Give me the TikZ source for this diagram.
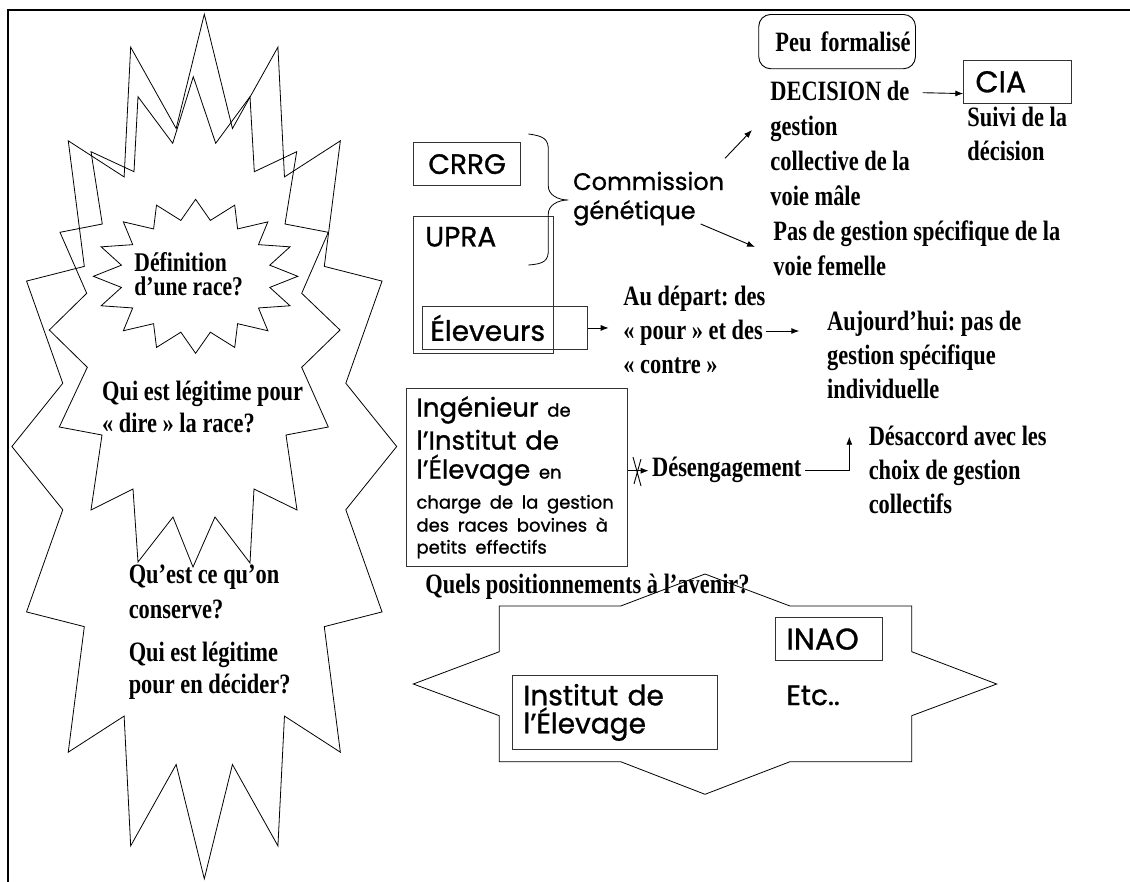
\documentclass[tikz,border=0pt]{standalone}
\usepackage{fontspec}
\setmainfont{Liberation Serif}
\newfontfamily\serre[FakeStretch=0.8]{Liberation Serif}
\newfontfamily\rond[FakeBold=1]{Poppins}
\newcommand\petit{\fontsize{18}{30}\selectfont}
\usetikzlibrary{arrows.meta}
\frenchspacing

\tikzset{
  etoile/.style={line width=0.8pt, line join=miter},
  boite/.style={draw=black!80, line width=0.9pt, rectangle, inner sep=0pt},
  serretxt/.style={font=\serre\bfseries\fontsize{28}{34}\selectfont, inner sep=0pt, align=left, anchor=base west},
  rondtxt/.style={font=\rond\fontsize{28}{30}\selectfont},
}

\begin{document}
\begin{tikzpicture}[x=1pt,y=-1pt,>={Latex[length=8pt,width=6pt]},line width=0.9pt]
\useasboundingbox (0,0) rectangle (1130,881);
% cadre
\draw[line width=1.8pt] (8,885) -- (8,10) -- (1135,10);

% les trois etoiles de gauche
\draw[etoile] ([shift={(204.3,446.5)}]90:192.4 and 432.3)
  \foreach \k [evaluate=\k as \r using {mod(\k,2)==0 ? 1 : 0.75}] in {1,...,31}
  { -- ([shift={(204.3,446.5)}]{90+11.25*\k}:{\r*192.4} and {\r*432.3}) } -- cycle;
\draw[etoile] (193.3,76.7) -- (215.7,143.3) -- (250,96.7) -- (254.3,171.7) -- (296.7,151.7)
  -- (285,224) -- (328.3,232.3) -- (301.7,293.3) -- (340,330) -- (301.7,367.3) -- (328.3,427)
  -- (286,435) -- (297,510) -- (254,489) -- (250,563) -- (215,517) -- (193,567) -- (173,517)
  -- (138,562) -- (133,489) -- (91,510) -- (102,435) -- (59.3,427) -- (87.3,367.3) -- (49.3,330)
  -- (86.7,293.3) -- (60,232.3) -- (102.3,224) -- (91,151.7) -- (134,171.7) -- (138,96.7)
  -- (172.7,143.3) -- cycle;
\draw[etoile] ([shift={(195.6,276.3)}]90:102.2 and 77)
  \foreach \k [evaluate=\k as \r using {mod(\k,2)==0 ? 1 : 0.74}] in {1,...,31}
  { -- ([shift={(195.6,276.3)}]{90+11.25*\k}:{\r*102.2} and {\r*77}) } -- cycle;

% textes : base west = ligne du bas
\node[serretxt, font=\serre\bfseries\fontsize{27}{24}\selectfont] (defi) at (134,295) {Définition\\d’une race?};
\node[serretxt, font=\serre\bfseries\fontsize{28}{32}\selectfont] (qui1) at (101.7,432) {Qui est légitime pour\\« dire » la race?};
\node[serretxt, font=\serre\bfseries\fontsize{28}{35}\selectfont] (conserve) at (128.3,618.3) {Qu’est ce qu’on\\conserve?};
\node[serretxt, font=\serre\bfseries\fontsize{28}{32}\selectfont] (qui2) at (128.3,693.7) {Qui est légitime\\pour en décider?};

% en haut a droite
\node[boite, draw=black, rounded corners=12pt, anchor=north west, minimum height=54.3pt,
  inner xsep=5pt, text width=146.7pt, align=right, font=\serre\bfseries\fontsize{28}{34}\selectfont] (peu) at (758.3,14) {Peu formalisé};
\node[serretxt, font=\serre\bfseries\fontsize{28}{35}\selectfont] (decision) at (770,205.7) {DECISION de\\gestion\\collective de la\\voie mâle};
\node[boite, anchor=north west, minimum height=42.7pt, text width=84.3pt, inner xsep=11.7pt, align=left,
  font=\rond\fontsize{30}{30}\selectfont] (cia) at (963.3,60) {CIA};
\node[serretxt] (suivi) at (967,160) {Suivi de la\\décision};
\node[serretxt, font=\serre\bfseries\fontsize{28}{35}\selectfont] (pas) at (773,275) {Pas de gestion spécifique de la\\voie femelle};

% acteurs
\node[boite, rondtxt, anchor=north west, minimum width=106.7pt, minimum height=42.7pt] (crrg) at (413.3,142.3) {CRRG};
\node[boite, rondtxt, anchor=north west, text width=117pt, inner xsep=11.5pt, inner ysep=6pt,
  text height=24pt, text depth=100.7pt, align=left] (upra) at (413.3,216) {UPRA};
\draw[line width=0.8pt] (528.3,134) .. controls (545,136) and (548.3,140) .. (548.3,150) -- (548.3,186)
  .. controls (548.3,195) and (558,200) .. (568.3,200) .. controls (558,200) and (548.3,205) .. (548.3,214)
  -- (548.3,250) .. controls (548.3,260) and (545,264) .. (528.3,265);
\node[inner sep=0pt, align=left, anchor=base west, font=\rond\fontsize{24}{29}\selectfont] (comm) at (572.7,219) {Commission\\génétique};
\node[boite, rondtxt, anchor=north west, minimum height=43pt, text width=148.4pt, inner xsep=8.3pt, align=left] (eleveurs) at (421.7,306) {Éleveurs};

\node[serretxt] (depart) at (623,373) {Au départ: des\\« pour » et des\\« contre »};
\node[serretxt] (aujourd) at (826.7,398.7) {Aujourd’hui: pas de\\gestion spécifique\\individuelle};

\node[boite, anchor=north west, minimum height=178.3pt, text width=201.3pt, inner xsep=10pt, align=left,
  font=\rond\fontsize{26}{30}\selectfont, execute at begin node={\hyphenpenalty=10000}] (ing) at (406,387.7)
  {Ingénieur {\petit de}\\[3pt]
   l’Institut de\\[-1pt]
   l’Élevage {\petit en}\\
   {\petit charge de la gestion}\\[-7pt]
   {\petit des races bovines à}\\[-8pt]
   {\petit petits effectifs}};
\node[serretxt] (deseng) at (651.7,476.7) {Désengagement};
\node[serretxt] (desaccord) at (868.3,513) {Désaccord avec les\\choix de gestion\\collectifs};

% avenir
\draw[etoile] (413.3,684) -- (499.3,651.7) -- (499.3,606) -- (620.7,606) -- (705,574) -- (790,606)
  -- (911.7,606) -- (911.7,651.7) -- (996.7,684) -- (911.7,715.7) -- (911.7,761.7) -- (790,761.7)
  -- (705,794.3) -- (620.7,761.7) -- (499.3,761.7) -- (499.3,715.7) -- cycle;
\node[serretxt] (quels) at (425,593) {Quels positionnements à l’avenir?};
\node[boite, anchor=north west, minimum height=42.7pt, text width=85.3pt, inner xsep=11pt, align=left,
  font=\rond\fontsize{30}{30}\selectfont] (inao) at (775,617.3) {INAO};
\node[rondtxt, inner sep=0pt, anchor=base west] (etc) at (786,705) {Etc..};
\node[boite, anchor=north west, minimum height=74pt, text width=183pt, inner xsep=11.3pt, align=left,
  font=\rond\fontsize{28}{28}\selectfont] (inst) at (511.7,675) {Institut de\\l’Élevage};

% fleches
\draw[->] ([shift={(152.3,-60.7)}]comm.base west) -- ([shift={(-18,-75.7)}]decision.base west);
\draw[->] ([shift={(128,5)}]comm.base west) -- ([shift={(-18,-28)}]pas.base west);
\draw[->] ([shift={(152.7,-113)}]decision.base west) -- ([shift={(0,-10)}]cia.south west);
\draw[->] (eleveurs.east) -- ([xshift=-14.3pt]depart.base west |- eleveurs.east);
\draw[->] ([shift={(143,-42)}]depart.base west) -- ([shift={(-27.4,-67.7)}]aujourd.base west);
\draw[->] ([yshift=6pt]ing.east |- deseng.base west) -- ([shift={(-3,-6)}]deseng.base west);
\draw (633,457) -- (641,486) (641,459) -- (634,484);
\draw[->] ([shift={(153.3,-6)}]deseng.base west) -| ([shift={(-19,-76.3)}]desaccord.base west);
\end{tikzpicture}
\end{document}
